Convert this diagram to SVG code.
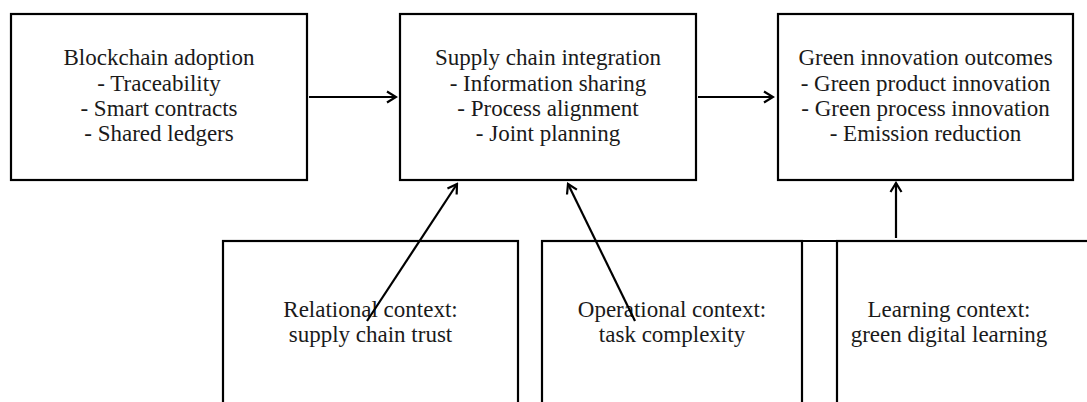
<svg xmlns="http://www.w3.org/2000/svg" width="1087" height="402" viewBox="0 0 1087 402">
  <style>
    .box { fill: #ffffff; stroke: #000000; stroke-width: 2.2; }
    .lbl { font-family: "Liberation Serif", "Times New Roman", serif; font-size: 23px; fill: #1a1a1a; text-anchor: middle; }
    .edge { stroke: #000000; stroke-width: 2.2; fill: none; }
  </style>
  <defs>
    <marker id="arrow" viewBox="0 0 14 14" refX="12" refY="7" markerWidth="14" markerHeight="14" markerUnits="userSpaceOnUse" orient="auto">
      <path d="M3,1.5 L12,7 L3,12.5" fill="none" stroke="#000000" stroke-width="2.2" stroke-linejoin="miter"/>
    </marker>
  </defs>
  <rect width="1087" height="402" fill="#ffffff"/>

  <g id="blockchain">
    <rect class="box" x="11" y="14" width="296" height="166"/>
    <text class="lbl" x="159" y="65">Blockchain adoption</text>
    <text class="lbl" x="159" y="90.5">- Traceability</text>
    <text class="lbl" x="159" y="115.5">- Smart contracts</text>
    <text class="lbl" x="159" y="140.5">- Shared ledgers</text>
  </g>

  <g id="integration">
    <rect class="box" x="400" y="14" width="296" height="166"/>
    <text class="lbl" x="548" y="65">Supply chain integration</text>
    <text class="lbl" x="548" y="90.5">- Information sharing</text>
    <text class="lbl" x="548" y="115.5">- Process alignment</text>
    <text class="lbl" x="548" y="140.5">- Joint planning</text>
  </g>

  <g id="outcomes">
    <rect class="box" x="778" y="14" width="295" height="166"/>
    <text class="lbl" x="925.5" y="65">Green innovation outcomes</text>
    <text class="lbl" x="925.5" y="90.5">- Green product innovation</text>
    <text class="lbl" x="925.5" y="115.5">- Green process innovation</text>
    <text class="lbl" x="925.5" y="140.5">- Emission reduction</text>
  </g>

  <g id="relational">
    <rect class="box" x="223" y="241" width="295" height="166"/>
    <text class="lbl" x="370.5" y="317">Relational context:</text>
    <text class="lbl" x="370.5" y="342">supply chain trust</text>
  </g>

  <g id="operational">
    <rect class="box" x="542" y="241" width="260" height="166"/>
    <text class="lbl" x="672" y="317">Operational context:</text>
    <text class="lbl" x="672" y="342">task complexity</text>
  </g>

  <g id="learning">
    <line class="edge" x1="802" y1="241" x2="837" y2="241"/>
    <rect class="box" x="837" y="241" width="295" height="166"/>
    <text class="lbl" x="949" y="317">Learning context:</text>
    <text class="lbl" x="949" y="342">green digital learning</text>
  </g>

  <g id="connectors">
    <line class="edge" x1="309" y1="97" x2="396" y2="97" marker-end="url(#arrow)"/>
    <line class="edge" x1="698" y1="97" x2="773" y2="97" marker-end="url(#arrow)"/>
    <line class="edge" x1="896" y1="238" x2="896" y2="183" marker-end="url(#arrow)"/>
    <line class="edge" x1="367" y1="321" x2="457" y2="184" marker-end="url(#arrow)"/>
    <line class="edge" x1="635" y1="321" x2="568" y2="184" marker-end="url(#arrow)"/>
  </g>
</svg>
